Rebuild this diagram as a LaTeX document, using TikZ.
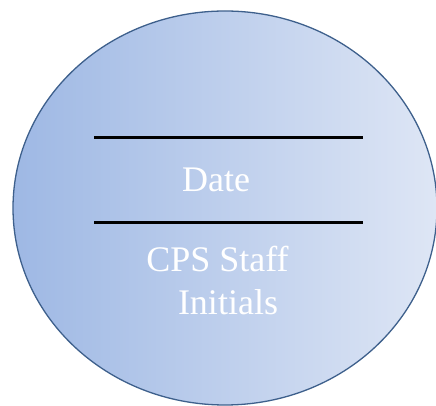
\documentclass[tikz,border=0pt]{standalone}
\usepackage{fontspec}
\setmainfont{Liberation Serif}
\definecolor{shadeleft}{RGB}{158,184,228}
\definecolor{shaderight}{RGB}{222,230,245}
\definecolor{rimblue}{RGB}{62,96,140}
\begin{document}
\begin{tikzpicture}[x=1pt,y=1pt]
\useasboundingbox (0,0) rectangle (436,406);
\draw[rimblue, line width=1.3pt, left color=shadeleft, right color=shaderight] (225,198) ellipse (212 and 197);
\coordinate (top0) at (94,268);
\coordinate (top1) at (363,268);
\coordinate (mid0) at (94,183);
\coordinate (mid1) at (363,183);
\draw[line width=3pt](top0) -- (top1);
\draw[line width=3pt](mid0) -- (mid1);
\node[anchor=base, white, font=\fontsize{36}{43}\selectfont, inner sep=0pt] (date) at (216,214){Date};
\node[anchor=base, white, font=\fontsize{36}{43}\selectfont, inner sep=0pt] (staff) at (217.5,134){CPS Staff};
\node[anchor=base, white, font=\fontsize{36}{43}\selectfont, inner sep=0pt] (initials) at (228,91){Initials};
\end{tikzpicture}
\end{document}
